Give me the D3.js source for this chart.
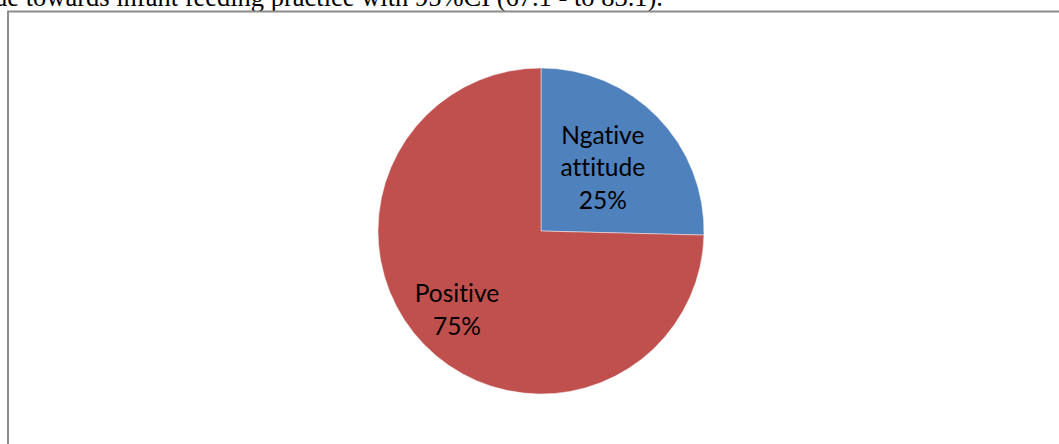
<!DOCTYPE html>
<html>
<head>
<meta charset="utf-8">
<script src="https://cdn.jsdelivr.net/npm/d3@7"></script>
<style>
  html, body { margin: 0; padding: 0; background: #fff; overflow: hidden; }
  svg { display: block; }
</style>
</head>
<body>
<svg id="chart" width="1059" height="444"></svg>
<script>
// ---- data ----
const categories = ["Ngative attitude", "Positive"];
const values = [25.4, 74.6];
const percentLabels = ["25%", "75%"];
const labelLines = [["Ngative", "attitude", "25%"], ["Positive", "75%"]];
const colors = ["#4F81BD", "#C0504D"];
const captionText = "attitude towards infant feeding practice with 95%CI (67.1 - to 83.1).";

const svg = d3.select("#chart");

// caption fragment above the figure (cut off by the page, as in the source)
svg.append("text")
  .attr("x", 663).attr("y", 6)
  .attr("text-anchor", "end")
  .style("font-family", "'Liberation Serif', 'Times New Roman', serif")
  .style("font-size", "26.5px")
  .attr("fill", "#000")
  .text(captionText);

// chart frame
svg.append("rect")
  .attr("x", 8).attr("y", 11.5)
  .attr("width", 1100).attr("height", 500)
  .attr("fill", "none")
  .attr("stroke", "#8c8c8c")
  .attr("stroke-width", 2);

const cx = 541, cy = 231, R = 163;
const g = svg.append("g").attr("transform", `translate(${cx},${cy})`);

const data = categories.map((c, i) => ({ name: c, value: values[i], lines: labelLines[i], color: colors[i] }));

const pie = d3.pie().value(d => d.value).sort(null);
const arcs = pie(data);
const arc = d3.arc().innerRadius(0).outerRadius(R);

g.selectAll("path.slice")
  .data(arcs)
  .enter().append("path")
  .attr("class", "slice")
  .attr("d", arc)
  .attr("fill", d => d.data.color)
  .attr("stroke", "rgba(255,255,255,0.45)")
  .attr("stroke-width", 1);

const labelFactor = [0.53, 0.72];
const lineH = 32.5;
const labels = g.selectAll("g.lbl")
  .data(arcs)
  .enter().append("g")
  .attr("class", "lbl")
  .attr("transform", (d, i) => {
    const r = R * labelFactor[i];
    const a = (d.startAngle + d.endAngle) / 2;
    return `translate(${r * Math.sin(a)},${-r * Math.cos(a)})`;
  });

labels.each(function(d) {
  const n = d.data.lines.length;
  const t = d3.select(this).append("text")
    .attr("text-anchor", "middle")
    .style("font-family", "Lato, 'Open Sans', sans-serif")
    .style("font-size", "24.5px")
    .style("font-variant-ligatures", "none")
    .style("font-feature-settings", "'liga' 0")
    .attr("fill", "#000");
  d.data.lines.forEach((ln, j) => {
    t.append("tspan")
      .attr("x", 0)
      .attr("y", (j - (n - 1) / 2) * lineH)
      .attr("dy", "0.22em")
      .text(ln);
  });
});
</script>
</body>
</html>
